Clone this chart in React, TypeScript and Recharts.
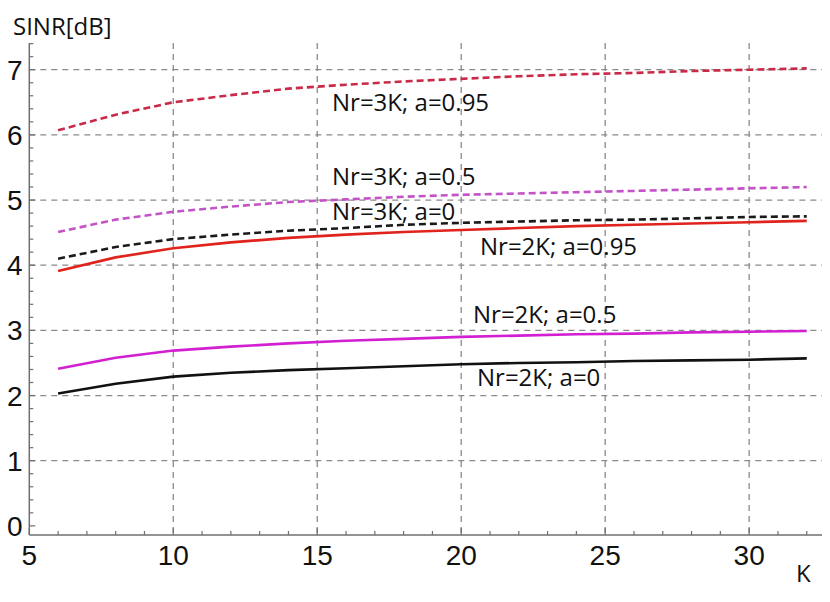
import React from 'react';
import { LineChart, Line, XAxis, YAxis, CartesianGrid } from 'recharts';

const K = [6, 8, 10, 12, 14, 16, 18, 20, 22, 24, 26, 28, 30, 32];
const nr3a095 = [6.07, 6.31, 6.5, 6.61, 6.71, 6.77, 6.82, 6.86, 6.9, 6.93, 6.95, 6.98, 7.0, 7.02];
const nr3a05 = [4.51, 4.7, 4.82, 4.9, 4.97, 5.01, 5.05, 5.08, 5.1, 5.12, 5.14, 5.16, 5.18, 5.2];
const nr3a0 = [4.1, 4.28, 4.4, 4.47, 4.53, 4.57, 4.62, 4.65, 4.67, 4.69, 4.7, 4.72, 4.74, 4.75];
const nr2a095 = [3.91, 4.12, 4.26, 4.35, 4.42, 4.47, 4.51, 4.54, 4.57, 4.6, 4.62, 4.64, 4.66, 4.68];
const nr2a05 = [2.41, 2.58, 2.69, 2.75, 2.8, 2.84, 2.87, 2.9, 2.92, 2.94, 2.95, 2.97, 2.98, 2.99];
const nr2a0 = [2.03, 2.18, 2.29, 2.35, 2.39, 2.42, 2.45, 2.48, 2.5, 2.51, 2.53, 2.54, 2.55, 2.57];

const xMajorTicks = [5, 10, 15, 20, 25, 30];
const yMajorTicks = [0, 1, 2, 3, 4, 5, 6, 7];
const xGridValues = [10, 15, 20, 25, 30];
const yGridValues = [1, 2, 3, 4, 5, 6, 7];
const xAllTicks = Array.from({ length: 28 }, (_, i) => 5 + i);
const yAllTicks = Array.from({ length: 38 }, (_, i) => Math.round(i * 2) / 10);

const annotations = [
  { text: 'Nr=3K; a=0.95', x: 332, y: 111 },
  { text: 'Nr=3K; a=0.5', x: 332, y: 185 },
  { text: 'Nr=3K; a=0', x: 332, y: 220 },
  { text: 'Nr=2K; a=0.95', x: 480, y: 255 },
  { text: 'Nr=2K; a=0.5', x: 473, y: 323 },
  { text: 'Nr=2K; a=0', x: 477, y: 386 },
];

const data = K.map((k, i) => ({
  k,
  nr3a095: nr3a095[i],
  nr3a05: nr3a05[i],
  nr3a0: nr3a0[i],
  nr2a095: nr2a095[i],
  nr2a05: nr2a05[i],
  nr2a0: nr2a0[i],
}));

const FRAME = '#6f6f6f';
const TICK_FONT = '"Liberation Sans", Arial, sans-serif';
const LABEL_FONT = '"Open Sans", "Noto Sans", sans-serif';

const isMajorX = (v: number) => xMajorTicks.includes(v);
const isMajorY = (v: number) => Math.abs(v - Math.round(v)) < 1e-6;

const BottomTick = (props: any) => {
  const { x, y, payload } = props;
  const v = payload.value;
  const major = isMajorX(v);
  return (
    <g>
      <line x1={x} x2={x} y1={y} y2={y - (major ? 7 : 4)} stroke={FRAME} strokeWidth={1.2} />
      {major && (
        <text x={x} y={y + 30} textAnchor="middle" fontFamily={TICK_FONT} fontSize={28} fill="#111">
          {v}
        </text>
      )}
    </g>
  );
};

const TopTick = (props: any) => {
  const { x, y, payload } = props;
  const major = isMajorX(payload.value);
  return <line x1={x} x2={x} y1={y} y2={y + (major ? 7 : 4)} stroke={FRAME} strokeWidth={1.2} />;
};

const LeftTick = (props: any) => {
  const { x, y, payload } = props;
  const v = payload.value;
  const major = isMajorY(v);
  return (
    <g>
      <line x1={x} x2={x + (major ? 6 : 4)} y1={y} y2={y} stroke={FRAME} strokeWidth={1.2} />
      {major && (
        <text x={x - 14.5} y={y + 10} textAnchor="middle" fontFamily={TICK_FONT} fontSize={28} fill="#111">
          {Math.round(v)}
        </text>
      )}
    </g>
  );
};

const RightTick = (props: any) => {
  const { x, y, payload } = props;
  const major = isMajorY(payload.value);
  return <line x1={x} x2={x - (major ? 6 : 4)} y1={y} y2={y} stroke={FRAME} strokeWidth={1.2} />;
};

const X_DOMAIN: [number, number] = [5, 32.53];
const Y_DOMAIN: [number, number] = [-0.14, 7.41];

export default function App() {
  return (
    <div style={{ position: 'absolute', left: 0, top: 0, width: 830, height: 602, background: '#fff' }}>
      <LineChart width={830} height={602} data={data} margin={{ top: 43, right: 8, bottom: 0, left: 0 }}>
        <CartesianGrid
          horizontal
          vertical
          horizontalValues={yGridValues}
          verticalValues={xGridValues}
          stroke="#8a8a8a"
          strokeDasharray="6 5"
          strokeWidth={1.3}
        />
        <XAxis
          dataKey="k"
          type="number"
          domain={X_DOMAIN}
          allowDataOverflow
          ticks={xAllTicks}
          interval={0}
          tick={<BottomTick />}
          tickLine={false}
          tickSize={0}
          tickMargin={0}
          height={67}
          axisLine={{ stroke: FRAME, strokeWidth: 1.5 }}
        />
        <XAxis
          xAxisId="top"
          orientation="top"
          dataKey="k"
          type="number"
          domain={X_DOMAIN}
          allowDataOverflow
          ticks={xAllTicks}
          interval={0}
          tick={<TopTick />}
          tickLine={false}
          tickSize={0}
          tickMargin={0}
          height={0}
          axisLine={{ stroke: FRAME, strokeWidth: 1.5 }}
        />
        <YAxis
          type="number"
          domain={Y_DOMAIN}
          allowDataOverflow
          ticks={yAllTicks}
          interval={0}
          tick={<LeftTick />}
          tickLine={false}
          tickSize={0}
          tickMargin={0}
          width={29.3}
          axisLine={{ stroke: FRAME, strokeWidth: 1.5 }}
        />
        <YAxis
          yAxisId="right"
          orientation="right"
          type="number"
          domain={Y_DOMAIN}
          allowDataOverflow
          ticks={yAllTicks}
          interval={0}
          tick={<RightTick />}
          tickLine={false}
          tickSize={0}
          tickMargin={0}
          width={0}
          axisLine={{ stroke: FRAME, strokeWidth: 1.5 }}
        />
        <Line type="linear" dataKey="nr2a0" stroke="#111111" strokeWidth={2.6} dot={false} isAnimationActive={false} />
        <Line type="linear" dataKey="nr2a05" stroke="#d21fd2" strokeWidth={2.6} dot={false} isAnimationActive={false} />
        <Line type="linear" dataKey="nr2a095" stroke="#e0231d" strokeWidth={2.6} dot={false} isAnimationActive={false} />
        <Line type="linear" dataKey="nr3a0" stroke="#1a1a1a" strokeWidth={2.6} strokeDasharray="7 4" dot={false} isAnimationActive={false} />
        <Line type="linear" dataKey="nr3a05" stroke="#c553c8" strokeWidth={2.6} strokeDasharray="7 4" dot={false} isAnimationActive={false} />
        <Line type="linear" dataKey="nr3a095" stroke="#c92a48" strokeWidth={2.6} strokeDasharray="7 4" dot={false} isAnimationActive={false} />
      </LineChart>
      <svg width={830} height={602} style={{ position: 'absolute', left: 0, top: 0, pointerEvents: 'none' }}>
        <text x={13} y={35} fontFamily={LABEL_FONT} fontSize={24} fill="#111">SINR[dB]</text>
        <text x={796} y={582} fontFamily={LABEL_FONT} fontSize={24} fill="#111">K</text>
        {annotations.map((a) => (
          <text key={a.text} x={a.x} y={a.y} fontFamily={LABEL_FONT} fontSize={24} fill="#111">
            {a.text}
          </text>
        ))}
      </svg>
    </div>
  );
}
